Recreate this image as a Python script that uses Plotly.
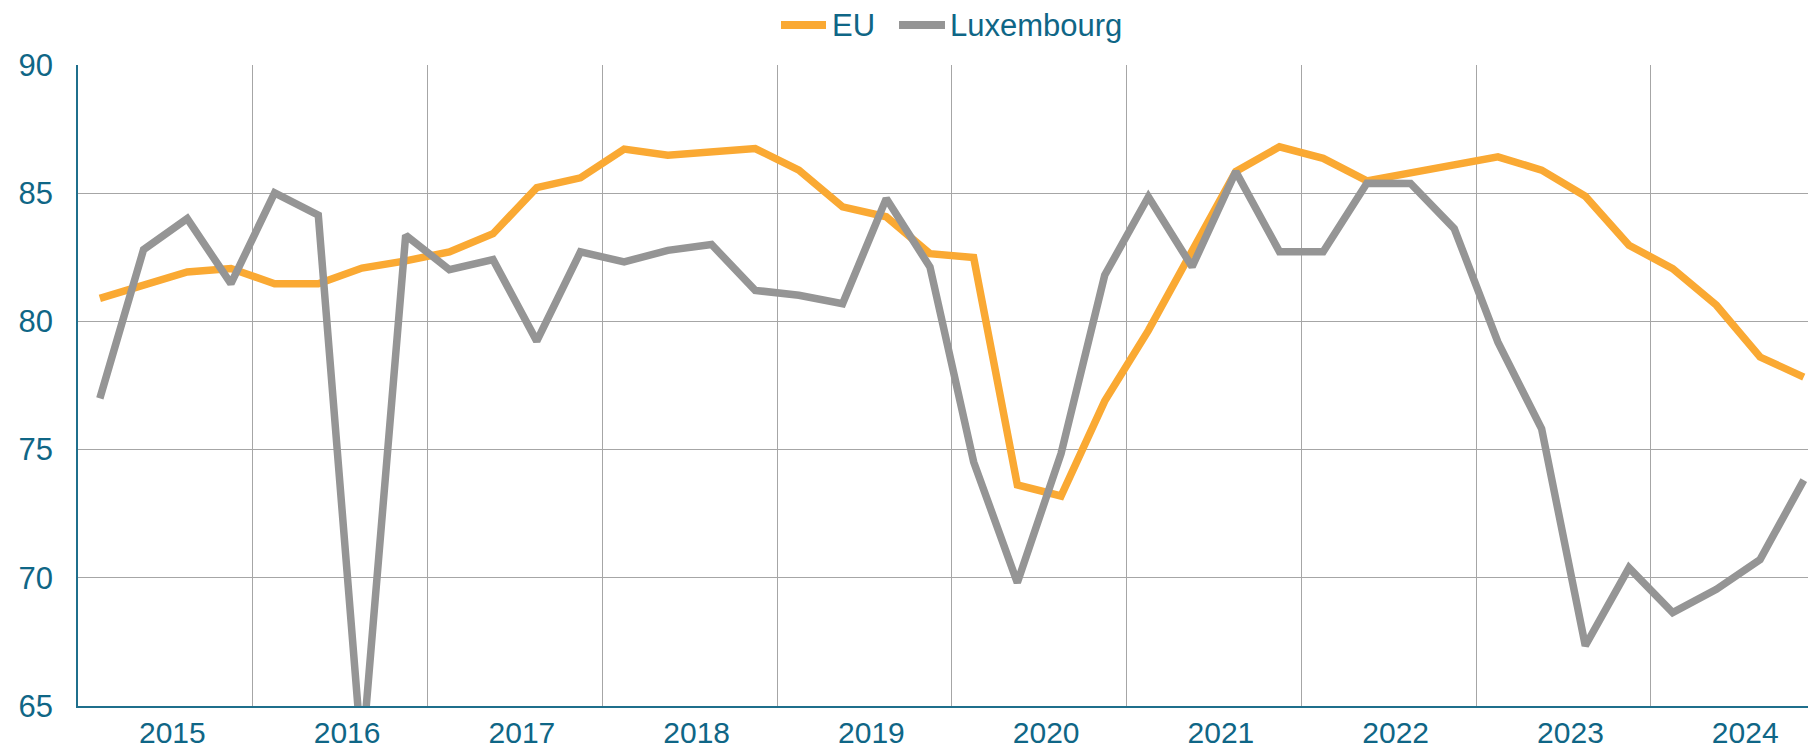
import plotly.graph_objects as go

# ---------------- data ----------------
years = [2015, 2016, 2017, 2018, 2019, 2020, 2021, 2022, 2023, 2024]
quarters = [f"{y}-Q{q}" for y in years for q in range(1, 5)]

eu = [80.9, 81.4, 81.93, 82.06, 81.47, 81.47, 82.08, 82.36, 82.71, 83.42, 85.22, 85.6,
      86.72, 86.48, 86.58, 86.74, 85.9, 84.47, 84.08, 82.64, 82.49, 73.62, 73.19, 76.89,
      79.65, 82.8, 85.85, 86.81, 86.36, 85.48, 85.77, 86.09, 86.42, 85.9, 84.88, 82.97,
      82.06, 80.63, 78.61, 77.83]

luxembourg = [77.0, 82.8, 84.01, 81.47, 85.01, 84.14, 63.0, 83.36, 82.02, 82.41, 79.23, 82.71,
              82.32, 82.77, 83.0, 81.21, 81.02, 80.69, 84.79, 82.12, 74.52, 69.81, 74.84, 81.8,
              84.86, 82.13, 85.84, 82.72, 82.72, 85.39, 85.38, 83.62, 79.19, 75.81, 67.35, 70.39,
              68.64, 69.55, 70.71, 73.81]

series_names = ["EU", "Luxembourg"]
y_ticks = [65, 70, 75, 80, 85, 90]

# ---------------- style ----------------
ORANGE = "#FAA933"
GREY = "#959595"
TEXT = "#0F6686"
AXIS = "#1F6F8C"
GRID = "#A6A6A6"
FONT = "Arial, Liberation Sans, sans-serif"
FS = 31
FSX = 30

W, H = 1808, 750
ML, MR, MT, MB = 78, 0, 65, 44
plot_w = W - ML - MR
plot_h = H - MT - MB

n = len(quarters)
x = list(range(n))
step = 43.69  # px per quarter
x_end = -0.5 + plot_w / step

fig = go.Figure()
for name, vals, col in [(series_names[0], eu, ORANGE), (series_names[1], luxembourg, GREY)]:
    fig.add_trace(go.Scatter(
        x=x, y=vals, mode="lines", name=name, customdata=quarters,
        line=dict(color=col, width=7.5), showlegend=False,
        hovertemplate="%{customdata}: %{y}<extra>" + name + "</extra>"))

year_centres = [4 * i + 1.5 + 0.16 for i in range(len(years))]
year_bounds = [4 * i + 3.5 for i in range(len(years) - 1)]

fig.update_layout(
    width=W, height=H, autosize=False,
    margin=dict(l=ML, r=MR, t=MT, b=MB, pad=0, autoexpand=False),
    plot_bgcolor="white", paper_bgcolor="white",
    font=dict(family=FONT, size=FS, color=TEXT),
    xaxis=dict(
        range=[-0.5, x_end], tickmode="array", tickvals=year_centres,
        ticktext=[str(y) for y in years], showgrid=False, zeroline=False,
        showline=True, linecolor=AXIS, linewidth=1.5, ticks="", automargin=False,
        tickfont=dict(size=FSX, color=TEXT, family=FONT), ticklabelstandoff=-1,
        minor=dict(tickmode="array", tickvals=year_bounds, showgrid=True,
                   gridcolor=GRID, gridwidth=1, ticks=""),
    ),
    yaxis=dict(
        range=[65, 90], tickmode="array", tickvals=y_ticks,
        showgrid=True, gridcolor=GRID, gridwidth=1, zeroline=False,
        showline=True, linecolor=AXIS, linewidth=1.5, ticks="", automargin=False,
        tickfont=dict(size=FS, color=TEXT, family=FONT), ticklabelstandoff=17,
    ),
)

# ---------------- legend (manual, centred at top) ----------------
def px_x(p):
    return (p - ML) / plot_w

def px_y(p):
    return (H - MB - p) / plot_h

legend_y = 25
legend_items = [(series_names[0], ORANGE, 781, 826, 830), (series_names[1], GREY, 899, 945, 948)]
for name, col, x0, x1, tx in legend_items:
    fig.add_shape(type="line", xref="paper", yref="paper",
                  x0=px_x(x0), x1=px_x(x1), y0=px_y(legend_y), y1=px_y(legend_y),
                  line=dict(color=col, width=8))
    fig.add_annotation(xref="paper", yref="paper", x=px_x(tx), y=px_y(legend_y),
                       xanchor="left", yanchor="middle", text=name, showarrow=False,
                       font=dict(size=FS, color=TEXT, family=FONT))

fig.write_html("out.html", config={"displayModeBar": False},
               post_script="document.body.style.margin='0';document.body.style.overflow='hidden';")
